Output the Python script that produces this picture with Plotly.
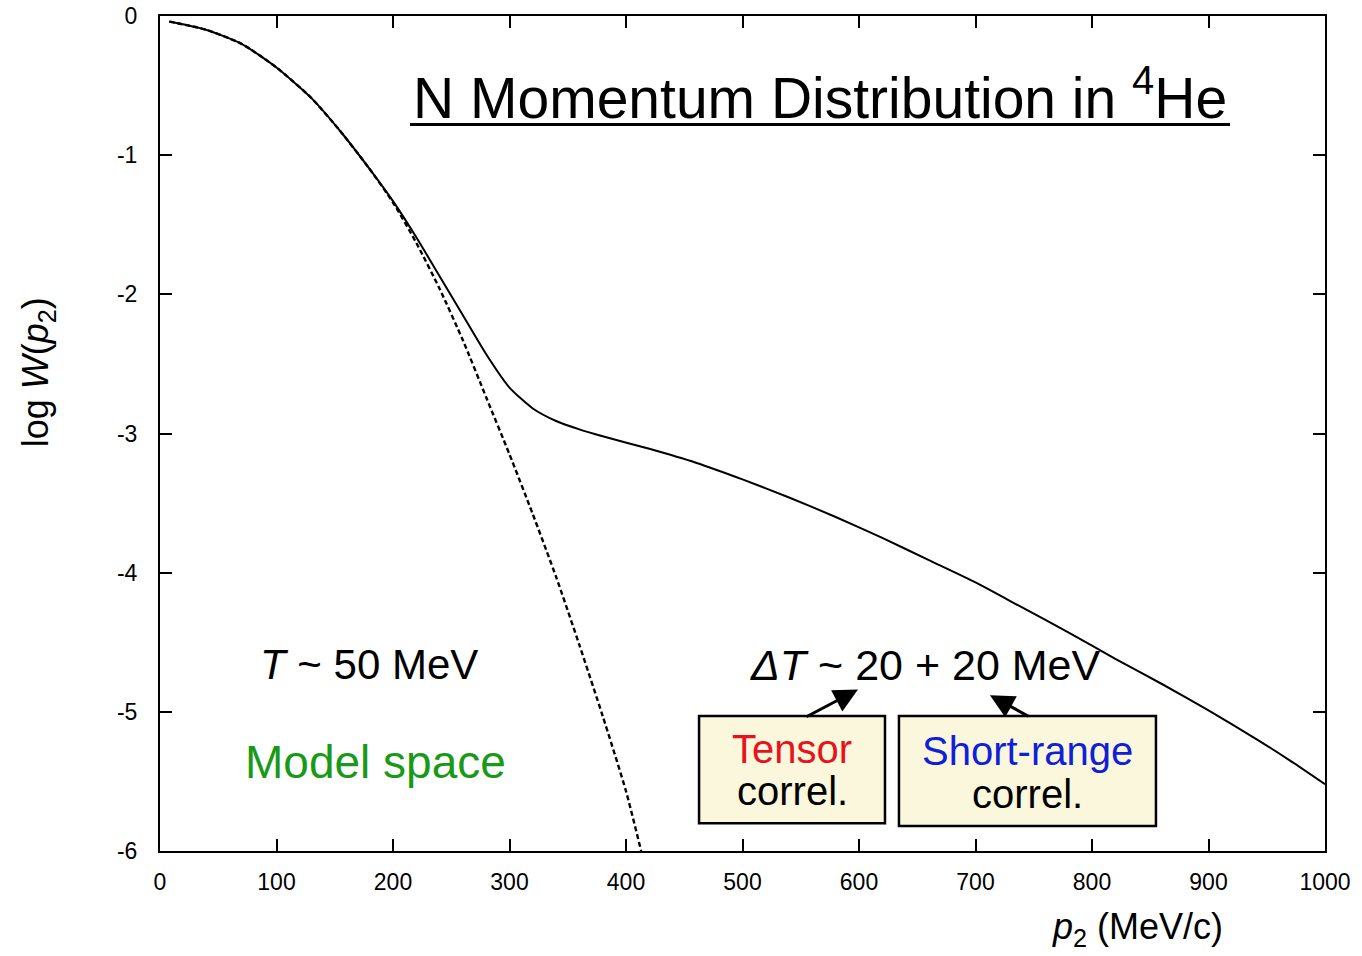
import plotly.graph_objects as go

# Full calculation: nucleon momentum distribution in 4He (log scale values)
p_full = [8, 40, 70, 100, 130, 155, 180, 200, 220, 240, 260, 280, 300, 320, 340,
          360, 380, 420, 460, 500, 540, 580, 620, 660, 700, 740, 780, 820, 860,
          900, 940, 970, 1000]
logw_full = [-0.04, -0.10, -0.20, -0.37, -0.59, -0.83, -1.10, -1.33, -1.59, -1.87,
             -2.15, -2.43, -2.67, -2.82, -2.91, -2.97, -3.02, -3.11, -3.21, -3.33,
             -3.46, -3.60, -3.75, -3.91, -4.07, -4.25, -4.43, -4.62, -4.80, -4.99,
             -5.19, -5.35, -5.52]

# Model-space (mean-field) result
p_model = [8, 40, 70, 100, 130, 155, 180, 200, 220, 240, 260, 280, 300, 320, 340,
           360, 380, 400, 413]
logw_model = [-0.04, -0.10, -0.20, -0.37, -0.59, -0.83, -1.10, -1.34, -1.63, -1.96,
              -2.33, -2.74, -3.15, -3.58, -4.03, -4.52, -5.03, -5.57, -6.00]

x_ticks = [0, 100, 200, 300, 400, 500, 600, 700, 800, 900, 1000]
x_ticktext = ["0", "100", "200", "300", "400", "500", "600", "700", "800", "900", "1000"]
y_ticks = [0, -1, -2, -3, -4, -5, -6]
y_ticktext = ["0", "-1", "-2", "-3", "-4", "-5", "-6"]

FONT = "Liberation Sans, Arial, Helvetica, sans-serif"

fig = go.Figure()
fig.add_trace(go.Scatter(x=p_full, y=logw_full, mode="lines",
                         line=dict(color="black", width=2, shape="spline", smoothing=0.6),
                         showlegend=False, hoverinfo="skip"))
fig.add_trace(go.Scatter(x=p_model, y=logw_model, mode="lines",
                         line=dict(color="black", width=2.4, dash="5px,3px",
                                   shape="spline", smoothing=0.6),
                         showlegend=False, hoverinfo="skip"))

axis_common = dict(showline=True, linecolor="black", linewidth=2, mirror="ticks",
                   ticks="inside", ticklen=12, tickwidth=2, tickcolor="black",
                   showgrid=False, zeroline=False, automargin=False,
                   tickfont=dict(family=FONT, size=23, color="black"))

fig.update_xaxes(range=[0, 1000], tickvals=x_ticks, ticktext=x_ticktext,
                 ticklabelstandoff=9, **axis_common)
fig.update_yaxes(range=[-6, 0], tickvals=y_ticks, ticktext=y_ticktext,
                 ticklabelstandoff=16, **axis_common)

# Boxes for the correlation labels
box_style = dict(type="rect", xref="x", yref="y", fillcolor="#faf7dc",
                 line=dict(color="black", width=2.5), layer="above")
fig.add_shape(x0=462.7, x1=622.3, y0=-5.80, y1=-5.03, **box_style)
fig.add_shape(x0=634.3, x1=854.9, y0=-5.82, y1=-5.03, **box_style)

# Title underline
fig.add_shape(type="line", xref="x", yref="y", x0=214.6, x1=918.5, y0=-0.78, y1=-0.78,
              line=dict(color="black", width=3))

def text(x, y, s, size, color="black", **kw):
    fig.add_annotation(x=x, y=y, text=s, showarrow=False, xref=kw.pop("xref", "x"),
                       yref=kw.pop("yref", "y"),
                       font=dict(family=FONT, size=size, color=color), **kw)

text(566.5, -0.56, "N Momentum Distribution in <sup>4</sup>He", 57)
text(179.4, -4.66, "<i>T</i> ~ 50 MeV", 42)
text(185.4, -5.36, "Model space", 46, color="#189a18")
text(656.6, -4.66, "<i>ΔT</i> ~ 20 + 20 MeV", 43)
text(542.5, -5.27, "Tensor", 40, color="#e8121c")
text(542.5, -5.57, "correl.", 40)
text(744.5, -5.28, "Short-range", 40, color="#1020d8")
text(744.5, -5.59, "correl.", 40)

# Arrows from the boxes to the energy contributions
fig.add_annotation(x=599.1, y=-4.84, ax=-53, ay=28, text="", showarrow=True,
                   arrowhead=2, arrowsize=1.6, arrowwidth=3, arrowcolor="black")
fig.add_annotation(x=712.4, y=-4.88, ax=40, ay=22, text="", showarrow=True,
                   arrowhead=2, arrowsize=1.6, arrowwidth=3, arrowcolor="black")

# Axis titles
text(-0.105, 0.573, "log <i>W</i>(<i>p</i><sub>2</sub>)", 36, xref="paper", yref="paper",
     textangle=-90, xanchor="center", yanchor="middle")
text(0.914, -0.094, "<i>p</i><sub>2</sub> (MeV/c)", 36, xref="paper", yref="paper",
     xanchor="right", yanchor="middle")

fig.update_layout(width=1362, height=956,
                  margin=dict(l=160, r=37, t=16, b=105),
                  paper_bgcolor="white", plot_bgcolor="white")

fig.write_html("out.html")
